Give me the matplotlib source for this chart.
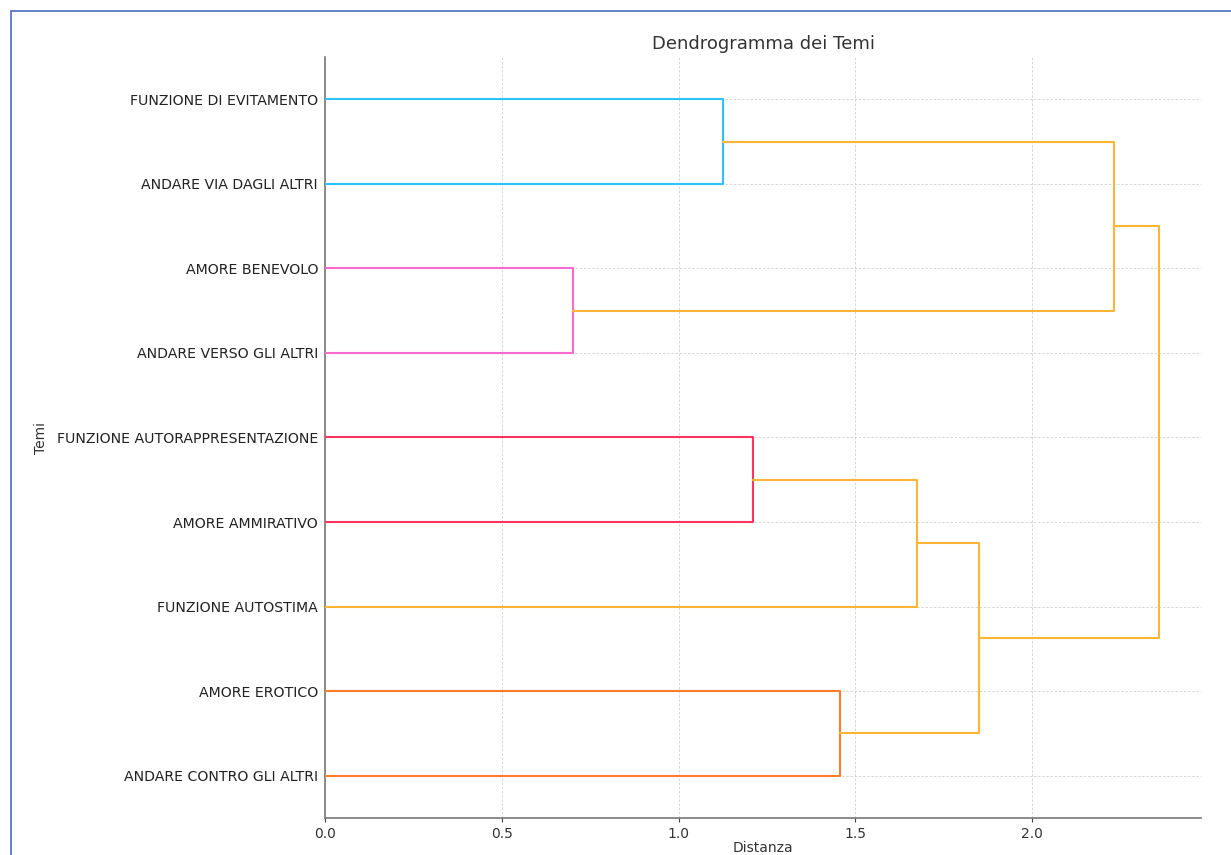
import matplotlib
matplotlib.use("Agg")
import matplotlib.pyplot as plt
from matplotlib.patches import Rectangle

# leaves, bottom to top (scipy "left" orientation order)
leaves = [
    "ANDARE CONTRO GLI ALTRI",
    "AMORE EROTICO",
    "FUNZIONE AUTOSTIMA",
    "AMORE AMMIRATIVO",
    "FUNZIONE AUTORAPPRESENTAZIONE",
    "ANDARE VERSO GLI ALTRI",
    "AMORE BENEVOLO",
    "ANDARE VIA DAGLI ALTRI",
    "FUNZIONE DI EVITAMENTO",
]

# merges: (left child, right child, distance, colour); children are leaf index
# or "c<k>" for the k-th merge
merges = [
    (0, 1, 1.457, "#ff7c2c"),                 # c0 erotico / contro
    (3, 4, 1.211, "#ff3360"),                 # c1 ammirativo / autorappr.
    (5, 6, 0.702, "#f96ad0"),                 # c2 verso / benevolo
    (7, 8, 1.126, "#2ec2fb"),                 # c3 via / evitamento
    (2, "c1", 1.675, "#ffb533"),              # c4
    ("c0", "c4", 1.850, "#ffb533"),           # c5
    ("c2", "c3", 2.232, "#ffb533"),           # c6
    ("c5", "c6", 2.359, "#ffb533"),           # c7
]

fig = plt.figure(figsize=(12.31, 8.55), dpi=100)
ax = fig.add_axes([325 / 1231, 1 - 818 / 855, (1201 - 325) / 1231, (818 - 57) / 855])

pos = {}  # node -> (x, y)
for i, _ in enumerate(leaves):
    pos[i] = (0.0, 5 + 10 * i)

for k, (a, b, d, col) in enumerate(merges):
    xa, ya = pos[a]
    xb, yb = pos[b]
    ax.plot([xa, d, d, xb], [ya, ya, yb, yb], color=col, lw=1.5, zorder=3)
    pos["c%d" % k] = (d, (ya + yb) / 2)

ax.set_ylim(0, 10 * len(leaves))
ax.set_xlim(0, merges[-1][2] * 1.05)
ax.set_yticks([5 + 10 * i for i in range(len(leaves))])
ax.set_yticklabels(leaves, fontsize=10.2, color="#222222")
ax.set_xticks([0.0, 0.5, 1.0, 1.5, 2.0])
ax.tick_params(axis="x", labelsize=10, colors="#444444", length=3)
ax.tick_params(axis="y", length=0, pad=5)
for lab in ax.get_xticklabels():
    lab.set_color("#333333")

ax.grid(True, linestyle=(0, (3, 2)), color="#d0d0d0", lw=0.6, zorder=0)
ax.spines["top"].set_visible(False)
ax.spines["right"].set_visible(False)
for s in ["left", "bottom"]:
    ax.spines[s].set_color("#777777")
    ax.spines[s].set_linewidth(1.2)

ax.set_title("Dendrogramma dei Temi", fontsize=13, color="#333333", pad=6)
ax.set_xlabel("Distanza", fontsize=10, color="#333333", labelpad=0)
ax.set_ylabel("Temi", fontsize=10, color="#333333", labelpad=6)

# blue frame (cropped screenshot border)
fig.patches.append(Rectangle((11 / 1231, -0.1), 1.2, 1 - 11 / 855 + 0.1,
                             transform=fig.transFigure, fill=False,
                             edgecolor="#4a6cc0", lw=1.2))

fig.savefig("out.png", dpi=100)
